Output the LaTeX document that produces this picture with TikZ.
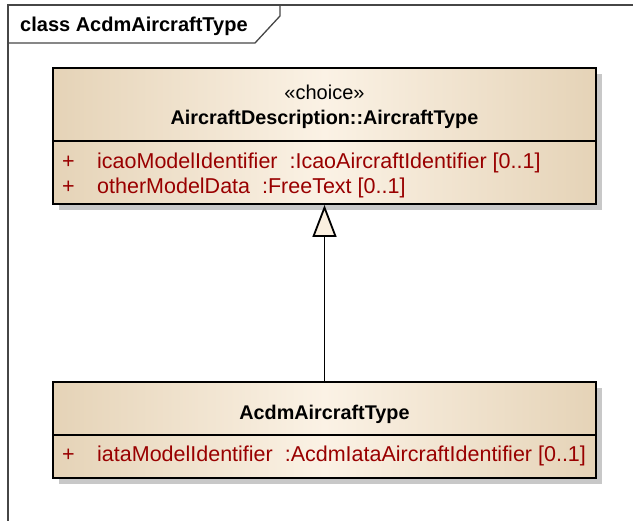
\documentclass[tikz,border=0pt]{standalone}
\usepackage{fontspec}
\setmainfont{Liberation Sans}
\usetikzlibrary{arrows.meta,shadows}
\definecolor{umldark}{RGB}{229,211,183}
\definecolor{umllight}{RGB}{251,242,229}
\definecolor{attrred}{RGB}{153,0,0}
\definecolor{framegray}{RGB}{70,70,70}
\definecolor{shadowgray}{RGB}{200,200,200}
\definecolor{tipfill}{RGB}{251,240,224}
\tikzset{
  classbox/.style={draw=black, line width=2pt, left color=umldark, right color=umldark,
    middle color=umllight, inner sep=0pt, minimum width=543pt,
    drop shadow={shadow xshift=6pt, shadow yshift=-6pt, fill=shadowgray, opacity=1}},
  divider/.style={draw=black, line width=1.5pt},
  framestyle/.style={draw=framegray, line width=1.3pt},
  stereo/.style={anchor=base, inner sep=0pt, font=\fontsize{20}{24}\selectfont},
  ctitle/.style={anchor=base, inner sep=0pt, font=\bfseries\fontsize{19.8}{24}\selectfont},
  plusmark/.style={anchor=base west, inner sep=0pt, text=attrred, font=\fontsize{21.5}{25}\selectfont},
  attr/.style={anchor=base west, inner sep=0pt, text=attrred, font=\fontsize{21.5}{25}\selectfont},
  tabtitle/.style={anchor=base west, inner sep=0pt, font=\bfseries\fontsize{20}{24}\selectfont},
  generalization/.style={draw=black, line width=1.8pt,
    -{Triangle[length=32pt,width=24pt,fill=tipfill]}}
}
\begin{document}
\begin{tikzpicture}[x=1pt,y=-1pt]
\useasboundingbox (0,0) rectangle (633,521);
% frame
\draw[framestyle] (633,5) -- (8,5) -- (8,521);
\draw[framestyle] (280,5) -- (280,16) -- (255,43) -- (8,43);
\node[tabtitle] (tab) at (20,32) {class AcdmAircraftType};
% upper class
\node[classbox, minimum height=136pt] (upper) at (324.5,136) {};
\coordinate (d1) at (0,141);
\draw[divider] (upper.west |- d1) -- (upper.east |- d1);
\node[stereo] (st) at (324.5,100) {«choice»};
\node[ctitle] (t1) at (324.5,125) {AircraftDescription::AircraftType};
\node[plusmark] (p1) at (62,169) {+};
\node[attr] (a1) at (97,169) {icaoModelIdentifier\ \ :IcaoAircraftIdentifier [0..1]};
\node[plusmark] (p2) at (62,194) {+};
\node[attr] (a2) at (97,194) {otherModelData\ \ :FreeText [0..1]};
% lower class
\node[classbox, minimum height=96pt] (lower) at (324.5,430) {};
\coordinate (d2) at (0,435);
\draw[divider] (lower.west |- d2) -- (lower.east |- d2);
\node[ctitle] (t2) at (324.5,420) {AcdmAircraftType};
\node[plusmark] (p3) at (62,462) {+};
\node[attr] (a3) at (97,462) {iataModelIdentifier\ \ :AcdmIataAircraftIdentifier [0..1]};
% generalization
\draw[generalization] (lower.north) -- (upper.south);
\end{tikzpicture}
\end{document}
